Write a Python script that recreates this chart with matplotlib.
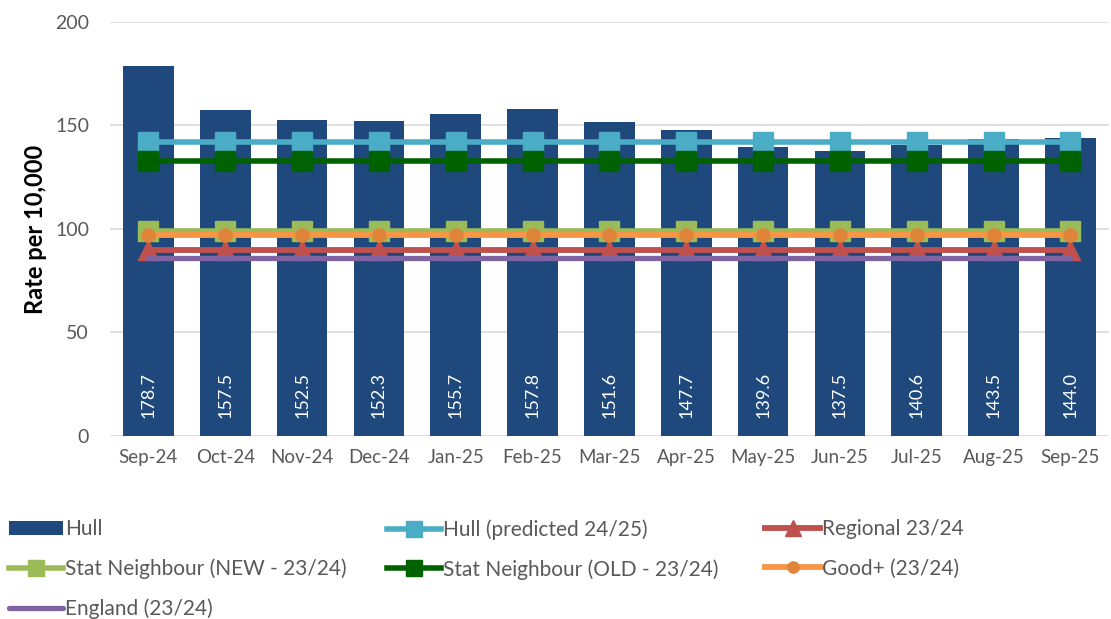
import matplotlib
matplotlib.use("Agg")
import matplotlib.pyplot as plt

months = ["Sep-24", "Oct-24", "Nov-24", "Dec-24", "Jan-25", "Feb-25", "Mar-25",
          "Apr-25", "May-25", "Jun-25", "Jul-25", "Aug-25", "Sep-25"]
hull = [178.7, 157.5, 152.5, 152.3, 155.7, 157.8, 151.6, 147.7, 139.6, 137.5, 140.6, 143.5, 144.0]
hull_predicted = [142.0] * len(months)
regional = [90.0] * len(months)
stat_new = [99.0] * len(months)
stat_old = [133.0] * len(months)
good_plus = [97.0] * len(months)
england = [86.0] * len(months)

plt.rcParams["font.family"] = ["Lato", "DejaVu Sans"]
GREY = "#595959"

fig = plt.figure(figsize=(11.11, 6.19), dpi=100)
ax = fig.add_axes([0.099, 0.2956, 0.899, 0.669])
x = range(len(months))

h_hull = ax.bar(x, hull, width=0.66, color="#1F497D", label="Hull", zorder=2)
h_pred, = ax.plot(x, hull_predicted, color="#4BACC6", lw=4, marker="s", ms=14,
                  label="Hull (predicted 24/25)", zorder=3)
h_reg, = ax.plot(x, regional, color="#C0504D", lw=4.2, marker="^", ms=14,
                 label="Regional 23/24", zorder=3)
h_new, = ax.plot(x, stat_new, color="#9BBB59", lw=4, marker="s", ms=14,
                 label="Stat Neighbour (NEW - 23/24)", zorder=3)
h_old, = ax.plot(x, stat_old, color="#006100", lw=4, marker="s", ms=14,
                 label="Stat Neighbour (OLD - 23/24)", zorder=3)
h_good, = ax.plot(x, good_plus, color="#F79646", lw=4.2, marker="o", ms=9.5,
                  markerfacecolor="#E0843A", markeredgecolor="#E0843A",
                  label="Good+ (23/24)", zorder=3)
h_eng, = ax.plot(x, england, color="#8064A2", lw=3.8, solid_capstyle="round",
                 label="England (23/24)", zorder=3)

for i, v in enumerate(hull):
    ax.text(i, 8.5, f"{v:.1f}", rotation=90, ha="center", va="bottom",
            color="white", fontsize=13, zorder=4)

ax.set_ylim(0, 200)
ax.set_yticks([0, 50, 100, 150, 200])
ax.set_xlim(-0.5, len(months) - 0.5)
ax.set_xticks(list(x))
ax.set_xticklabels(months)
ax.yaxis.grid(True, color="#D9D9D9", linewidth=1.2, zorder=0)
ax.set_axisbelow(True)
for s in ax.spines.values():
    s.set_visible(False)
ax.tick_params(axis="both", length=0, colors=GREY)
ax.tick_params(axis="y", labelsize=14, pad=15)
ax.tick_params(axis="x", labelsize=13.5, pad=9)
ax.set_ylabel("Rate per 10,000", fontsize=17, fontweight="bold", color="black", labelpad=6)

# legend: three columns placed explicitly
columns = [
    ([h_hull, h_new, h_eng], 0.008),
    ([h_pred, h_old], 0.348),
    ([h_reg, h_good], 0.689),
]
for hs, xpos in columns:
    leg = fig.legend(hs, [h.get_label() for h in hs], loc="upper left",
                     bbox_to_anchor=(xpos, 0.161), frameon=False, fontsize=15,
                     handlelength=2.6, handletextpad=0.1, labelspacing=0.92,
                     borderpad=0, borderaxespad=0, markerscale=0.85)
    for t in leg.get_texts():
        t.set_color(GREY)

fig.savefig("out.png", dpi=100, facecolor="white")
